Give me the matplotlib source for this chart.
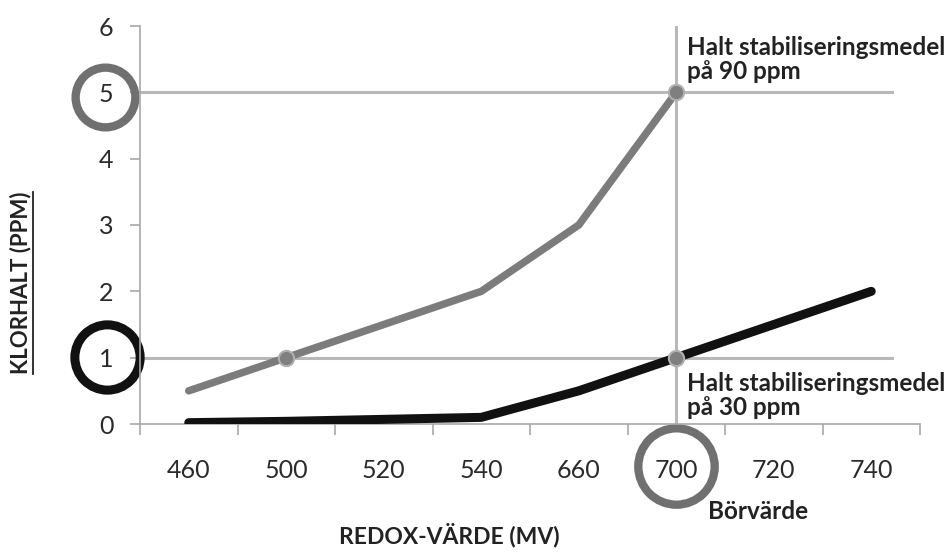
import matplotlib
matplotlib.use('Agg')
import matplotlib.pyplot as plt
import matplotlib.transforms as mtransforms
from matplotlib.lines import Line2D

# Data (category axis: redox values, evenly spaced)
redox_labels = ['460', '500', '520', '540', '660', '700', '720', '740']
klor_90ppm = [0.5, 1.0, 1.5, 2.0, 3.0, 5.0, None, None]
klor_30ppm = [0.02, 0.04, 0.07, 0.1, 0.5, 1.0, 1.5, 2.0]
setpoint_idx = 5          # 700 mV
level_90 = 5
level_30 = 1
y_ticks = [0, 1, 2, 3, 4, 5, 6]

fig = plt.figure(figsize=(9.52, 5.54), dpi=100)
ax = fig.add_axes([140/952, 1 - 424/554, 780/952, 398/554])

axis_col = '#a8a8a8'
grid_col = '#b8b8b8'
gray_line = '#7c7c7c'
dark = '#111111'
text_col = '#222222'

x = list(range(len(redox_labels)))

# reference lines
ax.axhline(level_90, xmin=0, xmax=0.964, color=grid_col, lw=2.2, zorder=1)
ax.axhline(level_30, xmin=0, xmax=0.964, color=grid_col, lw=2.2, zorder=1)
ax.axvline(setpoint_idx, ymin=0, ymax=1, color=grid_col, lw=2.2, zorder=1)

# series
xs90 = [i for i, v in zip(x, klor_90ppm) if v is not None]
ys90 = [v for v in klor_90ppm if v is not None]
ax.plot(xs90, ys90, color=gray_line, lw=5.4, solid_capstyle='round',
        solid_joinstyle='round', zorder=3)
ax.plot(x, klor_30ppm, color=dark, lw=6.5, solid_capstyle='round',
        solid_joinstyle='round', zorder=3)

# intersection markers
ax.plot([1, setpoint_idx, setpoint_idx], [level_30, level_90, level_30], 'o',
        ms=11, mfc='#7f7f7f', mec='#b0b0b0', mew=1.5, zorder=4)

ax.set_xlim(-0.5, len(redox_labels) - 0.5)
ax.set_ylim(0, 6)
ax.set_xticks(x)
ax.set_xticklabels(redox_labels)
ax.set_xticks([i - 0.5 for i in range(len(redox_labels) + 1)], minor=True)
ax.set_yticks(y_ticks)

for s in ['top', 'right']:
    ax.spines[s].set_visible(False)
for s in ['left', 'bottom']:
    ax.spines[s].set_color(axis_col)
    ax.spines[s].set_linewidth(1.2)

ax.tick_params(axis='x', which='major', length=0, pad=25, labelsize=18,
               labelcolor='#2a2a2a')
ax.tick_params(axis='x', which='minor', length=8, width=1.2, color=axis_col)
ax.tick_params(axis='y', length=7, width=1.2, color=axis_col, pad=12,
               labelsize=18, labelcolor='#2a2a2a')
for lab in ax.get_xticklabels() + ax.get_yticklabels():
    lab.set_family('Lato')

# rings around the highlighted tick labels
ytr = mtransforms.offset_copy(ax.get_yaxis_transform(), fig=fig, x=-35, y=-5, units='dots')
ax.plot([0], [level_90], 'o', transform=ytr, ms=43, mfc='none', mec='#707070',
        mew=6, clip_on=False)
ytr2 = mtransforms.offset_copy(ax.get_yaxis_transform(), fig=fig, x=-33, y=1, units='dots')
ax.plot([0], [level_30], 'o', transform=ytr2, ms=47, mfc='none', mec=dark,
        mew=6.5, clip_on=False)
xtr = mtransforms.offset_copy(ax.get_xaxis_transform(), fig=fig, x=0, y=-42, units='dots')
ax.plot([setpoint_idx], [0], 'o', transform=xtr, ms=55, mfc='none', mec='#707070',
        mew=6, clip_on=False)

# annotations
ann_kw = dict(textcoords='offset points', fontsize=17.5, fontweight='bold',
              family='Lato', color=text_col, linespacing=1.05, annotation_clip=False)
ax.annotate('Halt stabiliseringsmedel\npå 90 ppm', xy=(setpoint_idx, level_90),
            xytext=(8, 7), ha='left', va='bottom', **ann_kw)
ax.annotate('Halt stabiliseringsmedel\npå 30 ppm', xy=(setpoint_idx, level_30),
            xytext=(8, -10), ha='left', va='top', **ann_kw)
ax.annotate('Börvärde', xy=(setpoint_idx, 0), xytext=(23, -63),
            ha='left', va='center', **ann_kw)

ax.set_xlabel('REDOX-VÄRDE (MV)', fontsize=16.5, fontweight='bold', family='Lato',
              color=text_col, va='center')
ax.xaxis.set_label_coords((449 - 140) / 780, (424 - 535) / 398)
ax.set_ylabel('KLORHALT (PPM)', fontsize=16, fontweight='bold', family='Lato',
              color=text_col)
ax.yaxis.set_label_coords((31 - 140) / 780, (424 - 283) / 398)

# underline for the y label
fig.canvas.draw()
bb = ax.yaxis.label.get_window_extent()
ux = (bb.x1 + 2) / fig.bbox.width
fig.add_artist(Line2D([ux, ux], [bb.y0 / fig.bbox.height, bb.y1 / fig.bbox.height],
                      transform=fig.transFigure, color=text_col, lw=1.3))

fig.savefig('out.png', dpi=100)
